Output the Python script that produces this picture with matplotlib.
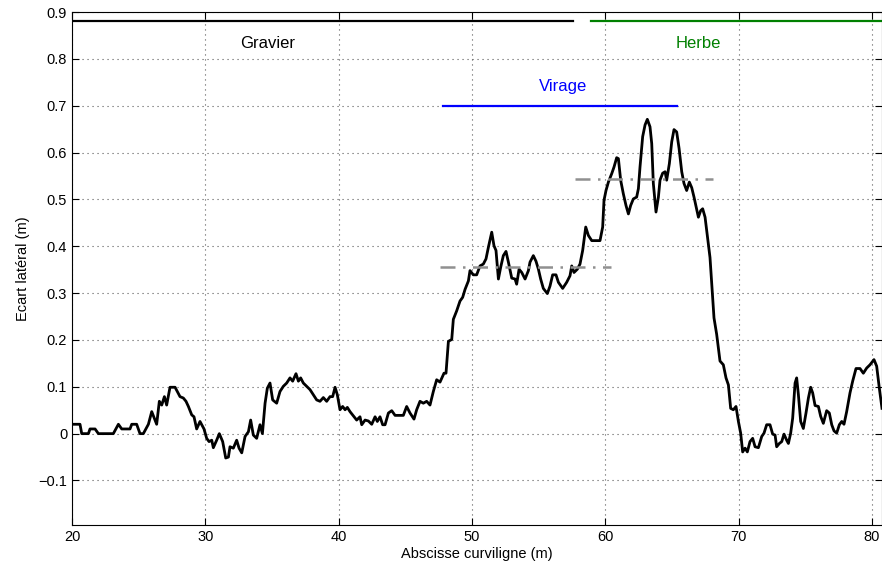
import matplotlib
matplotlib.use("Agg")
import matplotlib.pyplot as plt

plt.rcParams['font.family'] = ['Liberation Sans', 'DejaVu Sans']

# Curve: abscissa (m) and lateral deviation (m)
x_curve = [20.0, 20.6, 20.73, 21.23, 21.35, 21.73, 21.98, 23.1, 23.48, 23.73, 24.35, 24.48, 24.85,
           25.1, 25.35, 25.73, 25.98, 26.35, 26.55, 26.73, 26.93, 27.1, 27.35, 27.73, 28.1, 28.35,
           28.55, 28.73, 28.98, 29.15, 29.35, 29.6, 29.9, 30.1, 30.28, 30.48, 30.6, 30.85, 31.05,
           31.3, 31.53, 31.73, 31.85, 32.1, 32.35, 32.53, 32.73, 32.98, 33.23, 33.4, 33.6, 33.85,
           34.1, 34.28, 34.48, 34.65, 34.85, 35.05, 35.35, 35.6,
           35.85, 36.1, 36.35, 36.55, 36.8, 36.98, 37.15, 37.35, 37.6, 37.85, 38.1, 38.35, 38.6,
           38.85, 39.1, 39.35, 39.55, 39.73, 39.9, 40.1, 40.3, 40.48, 40.65, 40.85, 41.15, 41.35,
           41.6, 41.73, 41.98, 42.23, 42.48, 42.73, 42.9, 43.1, 43.3, 43.48, 43.73, 43.98, 44.23,
           44.85, 45.1, 45.35, 45.65, 45.85, 46.1, 46.35, 46.6, 46.85, 47.1, 47.35, 47.6, 47.9, 48.05,
           48.23, 48.48, 48.6, 48.85, 49.1, 49.3, 49.48, 49.73, 49.85, 50.1, 50.35, 50.6, 50.85,
           51.05, 51.23, 51.48, 51.65, 51.8, 51.98, 52.15, 52.35, 52.55, 52.73, 52.98, 53.23, 53.35,
           53.53, 53.73, 53.98, 54.23, 54.35, 54.6, 54.8, 54.98, 55.15, 55.35, 55.65, 55.85, 56.05,
           56.3, 56.48, 56.8, 57.1, 57.35, 57.48, 57.65, 57.9, 58.1, 58.3, 58.53, 58.73, 58.98,
           59.6, 59.8, 59.9,
           60.05, 60.23, 60.48, 60.65, 60.85, 60.98, 61.15, 61.35, 61.55, 61.73, 61.9, 62.1, 62.35,
           62.48, 62.6, 62.8, 62.98, 63.15, 63.35, 63.48, 63.6, 63.8, 63.98, 64.1, 64.3, 64.48, 64.6,
           64.8, 64.98, 65.15, 65.35, 65.53, 65.73, 65.9, 66.1, 66.3, 66.48, 66.65, 66.98, 67.15,
           67.3, 67.48, 67.65, 67.85,
           67.98, 68.15, 68.35, 68.6, 68.85, 69.05, 69.23, 69.4, 69.6, 69.8, 69.98, 70.15, 70.3,
           70.48, 70.65, 70.85, 71.05, 71.23, 71.48, 71.73, 71.9, 72.1, 72.35, 72.55, 72.73, 72.85,
           73.05, 73.23, 73.4, 73.6, 73.73, 73.9, 74.05, 74.23, 74.35, 74.48, 74.65, 74.85, 75.05,
           75.23, 75.4, 75.55, 75.73, 75.98, 76.15, 76.35, 76.6, 76.8, 76.98, 77.15, 77.35, 77.55,
           77.73, 77.9, 78.1, 78.35, 78.55, 78.8, 79.1, 79.35, 79.6, 79.85, 80.15, 80.35, 80.55, 80.75]
y_curve = [0.02, 0.02, 0.0, 0.0, 0.01, 0.01, 0.0, 0.0, 0.02, 0.01, 0.01, 0.02, 0.02,
           0.0, 0.0, 0.02, 0.047, 0.02, 0.069, 0.061, 0.079, 0.061, 0.099, 0.099, 0.079, 0.076,
           0.069, 0.058, 0.04, 0.036, 0.01, 0.026, 0.01, -0.01, -0.017, -0.014, -0.03, -0.014, 0.0,
           -0.017, -0.052, -0.05, -0.028, -0.031, -0.014, -0.031, -0.041, -0.006, 0.004, 0.029, -0.003, -0.01,
           0.019, 0.0, 0.065, 0.097, 0.108, 0.072, 0.065, 0.09,
           0.101, 0.108, 0.119, 0.112, 0.128, 0.112, 0.119, 0.108, 0.101, 0.094, 0.083, 0.072, 0.069,
           0.077, 0.069, 0.079, 0.079, 0.099, 0.083, 0.051, 0.058, 0.051, 0.056, 0.047, 0.036, 0.029,
           0.036, 0.019, 0.029, 0.027, 0.02, 0.036, 0.026, 0.036, 0.019, 0.019, 0.044, 0.049, 0.039,
           0.039, 0.058, 0.044, 0.031, 0.051, 0.069, 0.065, 0.069, 0.061, 0.09, 0.115, 0.11, 0.129, 0.129,
           0.197, 0.201, 0.244, 0.262, 0.283, 0.291, 0.308, 0.326, 0.348, 0.339, 0.339, 0.358, 0.362,
           0.373, 0.398, 0.43, 0.401, 0.391, 0.33, 0.355, 0.38, 0.389, 0.366, 0.332, 0.33, 0.319,
           0.351, 0.344, 0.33, 0.348, 0.366, 0.38, 0.368, 0.351, 0.33, 0.31, 0.299, 0.315, 0.339,
           0.339, 0.323, 0.31, 0.323, 0.337, 0.358, 0.344, 0.351, 0.362, 0.391, 0.441, 0.423, 0.412,
           0.412, 0.441, 0.498,
           0.519, 0.537, 0.555, 0.569, 0.589, 0.587, 0.541, 0.512, 0.487, 0.469, 0.487, 0.501, 0.505,
           0.523, 0.569, 0.634, 0.659, 0.671, 0.655, 0.619, 0.534, 0.473, 0.505, 0.541, 0.556, 0.559, 0.541,
           0.576, 0.623, 0.649, 0.644, 0.609, 0.559, 0.534, 0.519, 0.537, 0.525, 0.505, 0.462, 0.476,
           0.48, 0.462, 0.423, 0.376,
           0.319, 0.247, 0.212, 0.155, 0.147, 0.119, 0.104, 0.054, 0.051, 0.058, 0.026, 0.001, -0.039,
           -0.031, -0.039, -0.017, -0.01, -0.028, -0.03, -0.006, 0.001, 0.019, 0.019, -0.001, -0.003, -0.028,
           -0.021, -0.017, -0.001, -0.014, -0.021, 0.001, 0.033, 0.108, 0.119, 0.083, 0.026, 0.011, 0.044,
           0.076, 0.099, 0.087, 0.06, 0.058, 0.037, 0.022, 0.049, 0.044, 0.019, 0.006, 0.001, 0.019,
           0.026, 0.02, 0.047, 0.087, 0.112, 0.139, 0.139, 0.129, 0.14, 0.147, 0.158, 0.144, 0.097, 0.054]

# Zone bars (start, end, level)
gravier_x = [20.0, 57.6]
herbe_x = [58.9, 81.0]
zone_y = 0.88
virage_x = [47.8, 65.4]
virage_y = 0.70

# Mean levels (dash-dot)
mean1_x = [47.6, 60.4]
mean1_y = 0.355
mean2_x = [57.7, 68.1]
mean2_y = 0.543

x_ticks = [20, 30, 40, 50, 60, 70, 80]
y_ticks = [-0.1, 0, 0.1, 0.2, 0.3, 0.4, 0.5, 0.6, 0.7, 0.8, 0.9]
y_ticklabels = ['\u22120.1', '0', '0.1', '0.2', '0.3', '0.4', '0.5', '0.6', '0.7', '0.8', '0.9']

fig = plt.figure(figsize=(8.82, 5.69), dpi=100)
ax = fig.add_axes([72/882, 44/569, 1 - 72/882, (525 - 12)/569])

ax.plot(x_curve, y_curve, color='black', lw=2.0, zorder=5, solid_joinstyle='round')
ax.plot(gravier_x, [zone_y, zone_y], color='black', lw=1.6)
ax.plot(herbe_x, [zone_y, zone_y], color='#008000', lw=1.6)
ax.plot(virage_x, [virage_y, virage_y], color='#0000ff', lw=1.6)
ax.plot(mean1_x, [mean1_y, mean1_y], color='#909090', lw=1.8, ls=(0, (6, 3, 1, 3)), zorder=6)
ax.plot(mean2_x, [mean2_y, mean2_y], color='#909090', lw=1.8, ls=(0, (6, 3, 1, 3)), zorder=6)

ax.text(34.7, 0.833, 'Gravier', color='black', fontsize=12, ha='center', va='center')
ax.text(67.0, 0.833, 'Herbe', color='#008000', fontsize=12, ha='center', va='center')
ax.text(56.8, 0.74, 'Virage', color='#0000ff', fontsize=12, ha='center', va='center')

ax.set_xlim(20, 80.75)
ax.set_ylim(-0.195, 0.9)
ax.set_xticks(x_ticks)
ax.set_yticks(y_ticks)
ax.set_yticklabels(y_ticklabels)
ax.tick_params(direction='in', length=5, top=True, right=True, labelsize=10.5)
ax.grid(True, linestyle=(0, (1, 3.5)), color='0.35', linewidth=0.8)
for s in ax.spines.values():
    s.set_linewidth(0.8)

ax.set_xlabel('Abscisse curviligne (m)', fontsize=10.5, labelpad=2)
ax.set_ylabel('Ecart latéral (m)', fontsize=10.5, labelpad=6)

fig.savefig('out.png', dpi=100)
